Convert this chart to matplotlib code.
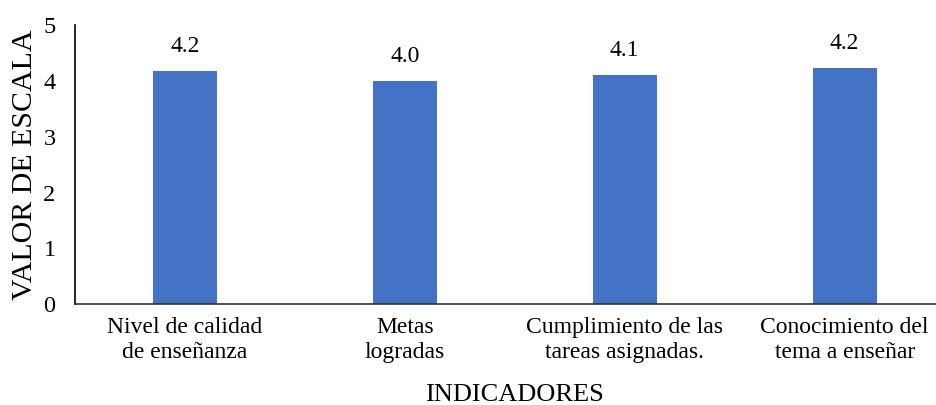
import matplotlib
matplotlib.use("Agg")
import matplotlib.pyplot as plt
import numpy as np

categories = ["Nivel de calidad\nde enseñanza", "Metas\nlogradas",
              "Cumplimiento de las\ntareas asignadas.", "Conocimiento del\ntema a enseñar"]
values = [4.18, 4.0, 4.11, 4.23]
yticks = [0, 1, 2, 3, 4, 5]

plt.rcParams['font.family'] = ['Liberation Serif', 'DejaVu Serif']

fig = plt.figure(figsize=(9.37, 4.05), dpi=100)
ax = fig.add_axes([0.080, 0.249, 0.920, 0.689])
x = np.arange(len(categories))
bars = ax.bar(x, values, width=0.29, color="#4472C4", zorder=2)
for xi, v in zip(x, values):
    ax.annotate(f"{v:.1f}", (xi, v), xytext=(0, 10), textcoords="offset points",
                ha="center", va="bottom", fontsize=17)

ax.set_ylim(0, 5)
ax.set_xlim(-0.5, 3.42)
ax.set_yticks(yticks)
ax.set_xticks(x)
ax.set_xticklabels(categories, fontsize=17, linespacing=1.25)
ax.tick_params(axis='y', length=0, pad=14, labelsize=17.5)
ax.tick_params(axis='x', length=0, pad=9)
for s in ["top", "right"]:
    ax.spines[s].set_visible(False)
ax.spines["left"].set_color("black")
ax.spines["left"].set_linewidth(1.2)
ax.spines["bottom"].set_color("#333333")
ax.spines["bottom"].set_linewidth(1.2)

ax.set_ylabel("VALOR DE ESCALA", fontsize=21.5)
ax.yaxis.set_label_coords(-0.043, 0.5)
ax.set_xlabel("INDICADORES", fontsize=19)
ax.xaxis.set_label_coords(0.51, -0.285)

fig.savefig("out.png", dpi=100)
